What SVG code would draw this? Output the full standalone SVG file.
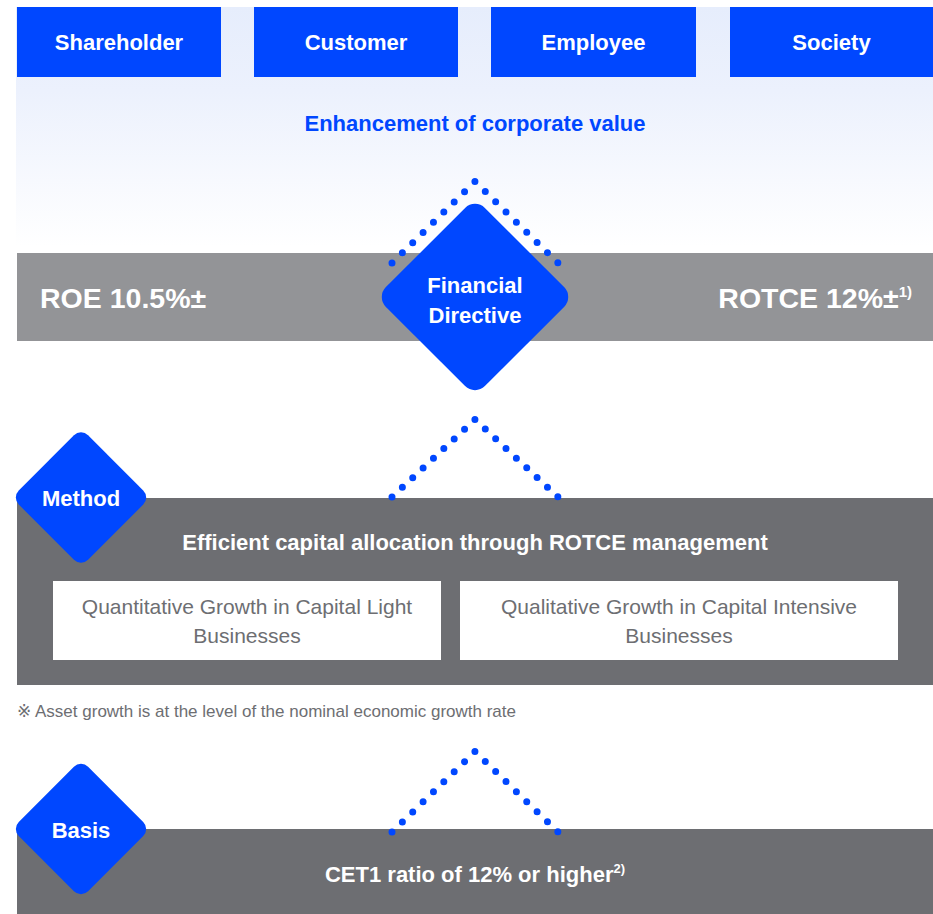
<svg xmlns="http://www.w3.org/2000/svg" width="933" height="914" viewBox="0 0 933 914">
<defs>
<linearGradient id="bg" x1="0" y1="0" x2="0" y2="1">
<stop offset="0" stop-color="#e6edfc"/>
<stop offset="0.35" stop-color="#ecf1fd"/>
<stop offset="1" stop-color="#ffffff"/>
</linearGradient>
<style>
.blue{fill:#0047ff}
.hd{font-family:"Liberation Sans",Arial,sans-serif;font-weight:bold;font-size:22px;fill:#ffffff;text-anchor:middle}
.big{font-family:"Liberation Sans",Arial,sans-serif;font-weight:bold;font-size:28.5px;fill:#ffffff}
.reg{font-family:"Liberation Sans",Arial,sans-serif;font-size:21px;fill:#6d6e72;text-anchor:middle}
.dots{fill:none;stroke:#0047ff;stroke-width:7;stroke-linecap:round;stroke-dasharray:0 9.99}
</style>
</defs>
<rect x="0" y="0" width="933" height="914" fill="#ffffff"/>
<rect x="16" y="7" width="917" height="240" fill="url(#bg)"/>

<g id="stakeholders">
<g id="shareholder"><rect class="blue" x="17" y="7" width="204" height="70"/><text class="hd" x="119" y="50">Shareholder</text></g>
<g id="customer"><rect class="blue" x="254" y="7" width="204" height="70"/><text class="hd" x="356" y="50">Customer</text></g>
<g id="employee"><rect class="blue" x="491" y="7" width="205" height="70"/><text class="hd" x="593.5" y="50">Employee</text></g>
<g id="society"><rect class="blue" x="730" y="7" width="203" height="70"/><text class="hd" x="831.5" y="50">Society</text></g>
</g>

<text id="enhancement" x="475" y="131" style="font-family:'Liberation Sans',Arial,sans-serif;font-weight:bold;font-size:22px;fill:#0047ff;text-anchor:middle">Enhancement of corporate value</text>

<g id="financial-band">
<rect x="17" y="253" width="916" height="88" fill="#939497"/>
<text class="big" x="40" y="308">ROE 10.5%±</text>
<text class="big" x="912" y="308" text-anchor="end">ROTCE 12%±<tspan font-size="15" dy="-11">1)</tspan></text>
</g>

<g id="method-band">
<rect x="17" y="498" width="916" height="187" fill="#6d6e72"/>
<text class="hd" x="475" y="550">Efficient capital allocation through ROTCE management</text>
<g id="capital-light">
<rect x="53" y="581" width="388" height="79" fill="#ffffff"/>
<text class="reg" x="247" y="614">Quantitative Growth in Capital Light</text>
<text class="reg" x="247" y="643">Businesses</text>
</g>
<g id="capital-intensive">
<rect x="460" y="581" width="438" height="79" fill="#ffffff"/>
<text class="reg" x="679" y="614">Qualitative Growth in Capital Intensive</text>
<text class="reg" x="679" y="643">Businesses</text>
</g>
</g>

<text id="footnote" x="17" y="717" style="font-family:'Liberation Sans',Arial,'DejaVu Sans',sans-serif;font-size:17px;fill:#6d6e72">※ Asset growth is at the level of the nominal economic growth rate</text>

<g id="basis-band">
<rect x="17" y="829" width="916" height="85" fill="#6d6e72"/>
<text class="hd" x="475" y="882">CET1 ratio of 12% or higher<tspan font-size="13" dy="-9">2)</tspan></text>
</g>

<g id="connectors">
<path class="dots" pathLength="160" d="M392 263 L475 181.5 L558 263"/>
<path class="dots" pathLength="160" d="M392 497 L475 419.5 L558 497"/>
<path class="dots" pathLength="160" d="M392 832 L475 751.5 L558 832"/>
</g>

<g id="financial-directive">
<rect class="blue" x="-70" y="-70" width="140" height="140" rx="14" transform="translate(475 297) rotate(45)"/>
<text class="hd" x="475" y="293">Financial</text>
<text class="hd" x="475" y="323">Directive</text>
</g>

<g id="method">
<rect class="blue" x="-49" y="-49" width="98" height="98" rx="10" transform="translate(81 497.5) rotate(45)"/>
<text class="hd" x="81" y="506">Method</text>
</g>

<g id="basis">
<rect class="blue" x="-49" y="-49" width="98" height="98" rx="10" transform="translate(81 829) rotate(45)"/>
<text class="hd" x="81" y="838">Basis</text>
</g>
</svg>
